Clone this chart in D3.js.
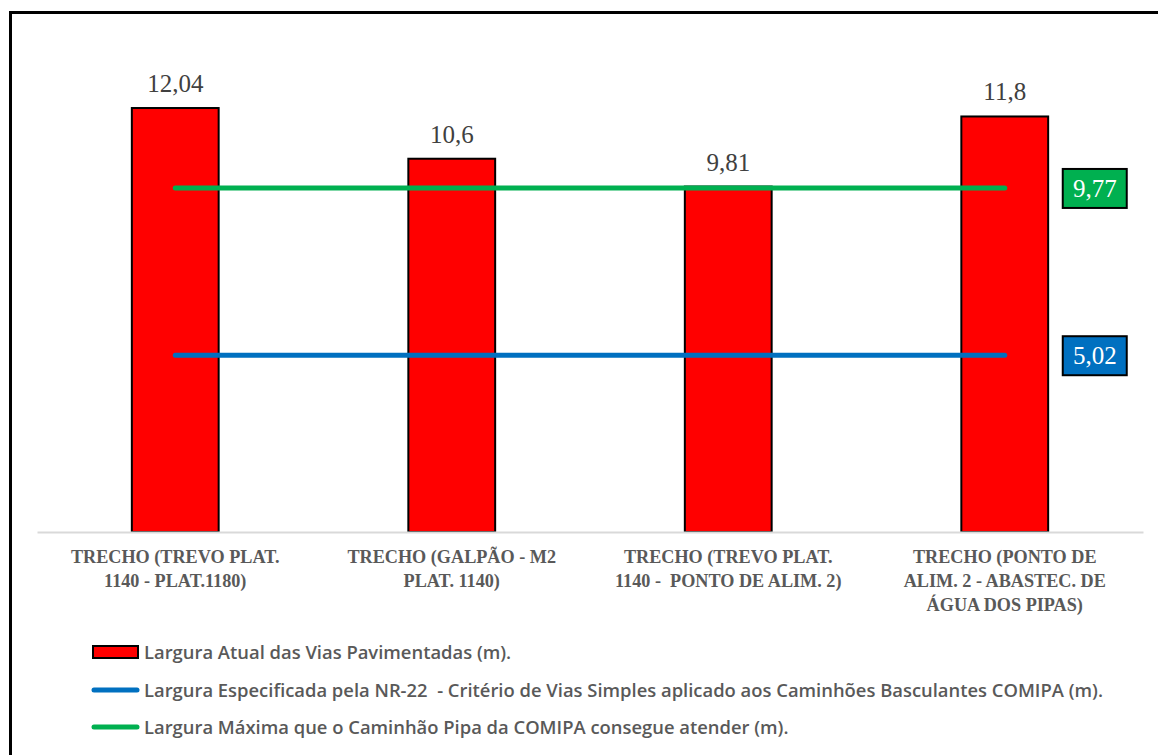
<!DOCTYPE html>
<html>
<head>
<meta charset="utf-8">
<script src="https://cdn.jsdelivr.net/npm/d3@7"></script>
<style>
  html, body { margin: 0; padding: 0; background: #fff; }
  svg { display: block; }
  text { white-space: pre; }
</style>
</head>
<body>
<svg id="chart" width="1158" height="755"></svg>
<script>
// Road segments (category axis), wrapped into lines for the labels
const categories = [
  "TRECHO (TREVO PLAT. 1140 - PLAT.1180)",
  "TRECHO (GALPÃO - M2 PLAT. 1140)",
  "TRECHO (TREVO PLAT. 1140 -  PONTO DE ALIM. 2)",
  "TRECHO (PONTO DE ALIM. 2 - ABASTEC. DE ÁGUA DOS PIPAS)"
];
const categoryLines = [
  ["TRECHO (TREVO PLAT.", "1140 - PLAT.1180)"],
  ["TRECHO (GALPÃO - M2", "PLAT. 1140)"],
  ["TRECHO (TREVO PLAT.", "1140 -  PONTO DE ALIM. 2)"],
  ["TRECHO (PONTO DE", "ALIM. 2 - ABASTEC. DE", "ÁGUA DOS PIPAS)"]
];
// Current paved road width (m)
const larguraAtual = [12.04, 10.6, 9.81, 11.8];
// NR-22 specified width (m), constant across segments
const larguraNR22 = [5.02, 5.02, 5.02, 5.02];
// Maximum width the water truck can serve (m)
const larguraPipa = [9.77, 9.77, 9.77, 9.77];

const seriesNames = [
  "Largura Atual das Vias Pavimentadas (m).",
  "Largura Especificada pela NR-22  - Critério de Vias Simples aplicado aos Caminhões Basculantes COMIPA (m).",
  "Largura Máxima que o Caminhão Pipa da COMIPA consegue atender (m)."
];
const colors = { bar: "#FF0000", blue: "#0070C0", green: "#00B050" };

const fmt = v => String(v).replace(".", ",");

const svg = d3.select("#chart");

// Outer frame (top and left edges visible)
svg.append("path")
  .attr("d", "M10.5,755 L10.5,12.5 L1158,12.5")
  .attr("fill", "none")
  .attr("stroke", "#000")
  .attr("stroke-width", 3);

const plot = { left: 37, right: 1143, top: 39, bottom: 532 };

const x = d3.scaleBand()
  .domain(categories)
  .range([plot.left, plot.right])
  .paddingInner(0.686)
  .paddingOuter(0.343);

const y = d3.scaleLinear()
  .domain([0, 14])
  .range([plot.bottom, plot.top]);

// Bars
svg.append("g").selectAll("rect")
  .data(larguraAtual)
  .join("rect")
  .attr("x", (d, i) => x(categories[i]))
  .attr("y", d => y(d))
  .attr("width", x.bandwidth())
  .attr("height", d => y(0) - y(d))
  .attr("fill", colors.bar)
  .attr("stroke", "#000")
  .attr("stroke-width", 2);

// Bar value labels
svg.append("g").selectAll("text")
  .data(larguraAtual)
  .join("text")
  .attr("x", (d, i) => x(categories[i]) + x.bandwidth() / 2)
  .attr("y", d => y(d) - 16)
  .attr("text-anchor", "middle")
  .attr("font-family", "'Liberation Serif', 'Times New Roman', serif")
  .attr("font-size", 25)
  .attr("fill", "#404040")
  .text(d => fmt(d));

// Category axis
const xAxis = svg.append("g")
  .attr("transform", `translate(0,${plot.bottom})`)
  .call(d3.axisBottom(x).tickSize(0).tickFormat(""));
xAxis.select(".domain").attr("stroke", "#D9D9D9").attr("stroke-width", 2);

const catLabels = svg.append("g").selectAll("text")
  .data(categories)
  .join("text")
  .attr("x", d => x(d) + x.bandwidth() / 2)
  .attr("y", plot.bottom + 31)
  .attr("text-anchor", "middle")
  .attr("font-family", "'Liberation Serif', 'Times New Roman', serif")
  .attr("font-weight", "bold")
  .attr("font-size", 18.2)
  .attr("fill", "#595959");
catLabels.each(function(d, i) {
  d3.select(this).selectAll("tspan")
    .data(categoryLines[i])
    .join("tspan")
    .attr("x", x(d) + x.bandwidth() / 2)
    .attr("dy", (t, j) => j === 0 ? 0 : 24)
    .text(t => t);
});

// Reference lines
const line = d3.line()
  .x((d, i) => x(categories[i]) + x.bandwidth() / 2)
  .y(d => y(d));

[[larguraNR22, colors.blue], [larguraPipa, colors.green]].forEach(([data, c]) => {
  svg.append("path")
    .datum(data)
    .attr("d", line)
    .attr("fill", "none")
    .attr("stroke", c)
    .attr("stroke-width", 5)
    .attr("stroke-linecap", "round");

  // Boxed value label at the end of the line
  const last = data[data.length - 1];
  const cx = x(categories[categories.length - 1]) + x.bandwidth() / 2 + 90;
  const cy = y(last);
  const g = svg.append("g");
  g.append("rect")
    .attr("x", cx - 32)
    .attr("y", cy - 19)
    .attr("width", 64)
    .attr("height", 39)
    .attr("fill", c)
    .attr("stroke", "#000")
    .attr("stroke-width", 2);
  g.append("text")
    .attr("x", cx)
    .attr("y", cy + 9)
    .attr("text-anchor", "middle")
    .attr("font-family", "'Liberation Serif', 'Times New Roman', serif")
    .attr("font-size", 25)
    .attr("fill", "#fff")
    .text(fmt(last));
});

// Legend
const legend = svg.append("g");
const legendY = [652, 690, 727];
const lx0 = 92, lx1 = 139;

legend.append("rect")
  .attr("x", lx0 + 1)
  .attr("y", legendY[0] - 6)
  .attr("width", lx1 - lx0 - 2)
  .attr("height", 12)
  .attr("fill", colors.bar)
  .attr("stroke", "#000")
  .attr("stroke-width", 2);
[colors.blue, colors.green].forEach((c, i) => {
  legend.append("line")
    .attr("x1", lx0 + 2).attr("x2", lx1 - 2)
    .attr("y1", legendY[i + 1]).attr("y2", legendY[i + 1])
    .attr("stroke", c)
    .attr("stroke-width", 5)
    .attr("stroke-linecap", "round");
});
legend.selectAll("text")
  .data(seriesNames)
  .join("text")
  .attr("x", 144)
  .attr("y", (d, i) => legendY[i] + 6.5)
  .attr("font-family", "'Open Sans', 'Noto Sans', sans-serif")
  .attr("font-weight", 600)
  .attr("font-size", 18.4)
  .attr("fill", "#595959")
  .text(d => d);
</script>
</body>
</html>
